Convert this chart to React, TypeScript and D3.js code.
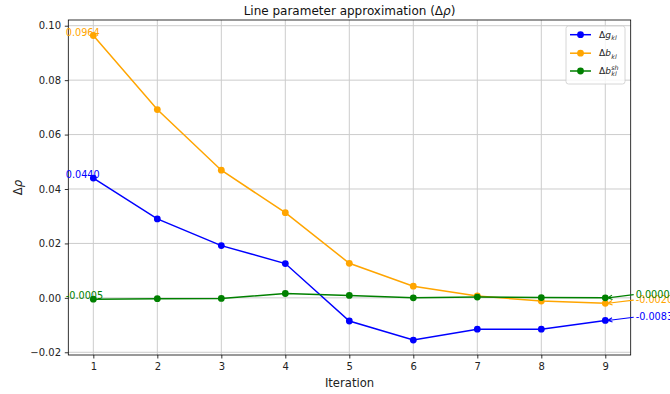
import * as d3 from 'd3';
import { useEffect, useRef } from 'react';

// values
const iterations = [1, 2, 3, 4, 5, 6, 7, 8, 9];
const deltaG = [0.044, 0.029, 0.0192, 0.0126, -0.0085, -0.0155, -0.0115, -0.0115, -0.0083];
const deltaB = [0.0964, 0.0692, 0.0469, 0.0313, 0.0127, 0.0043, 0.0007, -0.0012, -0.002];
const deltaBsh = [-0.0005, -0.0003, -0.0002, 0.0016, 0.0009, 0.0, 0.0003, 0.0001, 0.0];
const yTicks = [-0.02, 0, 0.02, 0.04, 0.06, 0.08, 0.1];
const startLabels = ['0.0440', '0.0964', '-0.0005'];
const endLabels = ['-0.0083', '-0.0020', '0.0000'];
const seriesColors = ['blue', 'orange', 'green'];
const legendBase = ['g', 'b', 'b'];
const legendSub = ['kl', 'kl', 'kl'];
const legendSup = ['', '', 'sh'];

const FONT = 'DejaVu Sans, sans-serif';

const App = () => {
  const ref = useRef<SVGSVGElement>(null);

  useEffect(() => {
    const svg = d3.select(ref.current);
    svg.selectAll('*').remove();

    const left = 68.3,
      right = 630.7,
      top = 20,
      bottom = 355;

    const x = d3.scaleLinear().domain([0.609, 9.397]).range([left, right]);
    const y = d3.scaleLinear().domain([-0.021, 0.1021]).range([bottom, top]);
    const series = [deltaG, deltaB, deltaBsh];

    svg.append('rect').attr('width', 670).attr('height', 394).attr('fill', '#fff');

    // grid
    const grid = svg.append('g').attr('stroke', '#cccccc').attr('stroke-width', 1);
    grid
      .selectAll('line.gx')
      .data(iterations)
      .enter()
      .append('line')
      .attr('x1', (d) => x(d))
      .attr('x2', (d) => x(d))
      .attr('y1', top)
      .attr('y2', bottom);
    grid
      .selectAll('line.gy')
      .data(yTicks)
      .enter()
      .append('line')
      .attr('x1', left)
      .attr('x2', right)
      .attr('y1', (d) => y(d))
      .attr('y2', (d) => y(d));

    // series
    const line = d3
      .line<number>()
      .x((d, i) => x(iterations[i]))
      .y((d) => y(d));

    series.forEach((vals, si) => {
      const g = svg.append('g');
      g.append('path')
        .attr('d', line(vals))
        .attr('fill', 'none')
        .attr('stroke', seriesColors[si])
        .attr('stroke-width', 1.5);
      g.selectAll('circle')
        .data(vals)
        .enter()
        .append('circle')
        .attr('cx', (d, i) => x(iterations[i]))
        .attr('cy', (d) => y(d))
        .attr('r', 3.4)
        .attr('fill', seriesColors[si]);
    });

    // spines
    svg
      .append('rect')
      .attr('x', left)
      .attr('y', top)
      .attr('width', right - left)
      .attr('height', bottom - top)
      .attr('fill', 'none')
      .attr('stroke', '#000')
      .attr('stroke-width', 0.8);

    // axes
    const xAxis = svg
      .append('g')
      .attr('transform', 'translate(0,' + bottom + ')')
      .call(
        d3
          .axisBottom(x)
          .tickValues(iterations)
          .tickFormat(d3.format('d'))
          .tickSize(3.5)
          .tickPadding(4.5)
          .tickSizeOuter(0)
      );
    const yAxis = svg
      .append('g')
      .attr('transform', 'translate(' + left + ',0)')
      .call(
        d3
          .axisLeft(y)
          .tickValues(yTicks)
          .tickFormat(d3.format('.2f'))
          .tickSize(3.5)
          .tickPadding(3.8)
          .tickSizeOuter(0)
      );
    [xAxis, yAxis].forEach((a) => {
      a.select('.domain').remove();
      a.selectAll('line').attr('stroke', '#000').attr('stroke-width', 0.8);
      a.selectAll('text').attr('fill', '#222').attr('font-size', 10).attr('font-family', FONT);
    });

    // labels
    svg
      .append('text')
      .attr('x', (left + right) / 2)
      .attr('y', 386.7)
      .attr('text-anchor', 'middle')
      .attr('font-size', 11.6)
      .attr('font-family', FONT)
      .attr('fill', '#222')
      .text('Iteration');

    const yl = svg
      .append('text')
      .attr('transform', 'translate(21.5,' + (top + bottom) / 2 + ') rotate(-90)')
      .attr('text-anchor', 'middle')
      .attr('font-size', 11.6)
      .attr('font-family', FONT)
      .attr('fill', '#222');
    yl.append('tspan').text('Δ');
    yl.append('tspan').attr('font-style', 'italic').text('ρ');

    const title = svg
      .append('text')
      .attr('x', (left + right) / 2)
      .attr('y', 15)
      .attr('text-anchor', 'middle')
      .attr('font-size', 12)
      .attr('font-family', FONT)
      .attr('fill', '#111');
    title.append('tspan').text('Line parameter approximation (Δ');
    title.append('tspan').attr('font-style', 'italic').text('ρ');
    title.append('tspan').text(')');

    // annotations at first and last iteration
    const last = iterations.length - 1;
    series.forEach((vals, si) => {
      svg
        .append('text')
        .attr('x', x(iterations[0] - 0.43))
        .attr('y', y(vals[0]))
        .attr('font-size', 9.7)
        .attr('font-family', FONT)
        .attr('fill', seriesColors[si])
        .text(startLabels[si]);

      const tx = x(iterations[last] + 0.475);
      const ty = y(vals[last]);
      svg
        .append('text')
        .attr('x', tx)
        .attr('y', ty)
        .attr('font-size', 9.7)
        .attr('font-family', FONT)
        .attr('fill', seriesColors[si])
        .text(endLabels[si]);

      const x0 = tx - 2,
        y0 = ty - 3.2,
        x1 = x(iterations[last]) + 2.5,
        y1 = ty;
      const ang = Math.atan2(y0 - y1, x0 - x1);
      const hl = 5,
        hw = 0.45;
      const p = d3.path();
      p.moveTo(x0, y0);
      p.lineTo(x1, y1);
      p.moveTo(x1 + hl * Math.cos(ang + hw), y1 + hl * Math.sin(ang + hw));
      p.lineTo(x1, y1);
      p.lineTo(x1 + hl * Math.cos(ang - hw), y1 + hl * Math.sin(ang - hw));
      svg
        .append('path')
        .attr('d', p.toString())
        .attr('fill', 'none')
        .attr('stroke', seriesColors[si])
        .attr('stroke-width', 1.1);
    });

    // legend
    const lg = svg.append('g');
    lg.append('rect')
      .attr('x', 566)
      .attr('y', 26)
      .attr('width', 59)
      .attr('height', 58)
      .attr('rx', 2.5)
      .attr('fill', '#fff')
      .attr('fill-opacity', 0.8)
      .attr('stroke', '#cccccc')
      .attr('stroke-width', 0.8);

    const rowY = [34.7, 53.2, 71];
    seriesColors.forEach((c, i) => {
      const cy = rowY[i];
      lg.append('line')
        .attr('x1', 570)
        .attr('x2', 591)
        .attr('y1', cy)
        .attr('y2', cy)
        .attr('stroke', c)
        .attr('stroke-width', 1.5);
      lg.append('circle').attr('cx', 580.5).attr('cy', cy).attr('r', 3.4).attr('fill', c);

      const t = lg
        .append('text')
        .attr('x', 599)
        .attr('y', cy + 3)
        .attr('font-size', 9)
        .attr('font-family', FONT)
        .attr('fill', '#222');
      t.append('tspan').text('Δ');
      t.append('tspan').attr('font-style', 'italic').text(legendBase[i]);
      const w = (t.node() as SVGTextElement).getComputedTextLength();

      lg.append('text')
        .attr('x', 599 + w + 0.4)
        .attr('y', cy + 5.3)
        .attr('font-size', 6.3)
        .attr('font-style', 'italic')
        .attr('font-family', FONT)
        .attr('fill', '#222')
        .text(legendSub[i]);
      if (legendSup[i]) {
        lg.append('text')
          .attr('x', 599 + w + 0.4)
          .attr('y', cy - 1.2)
          .attr('font-size', 6.3)
          .attr('font-style', 'italic')
          .attr('font-family', FONT)
          .attr('fill', '#222')
          .text(legendSup[i]);
      }
    });
  }, []);

  return (
    <svg
      ref={ref}
      width={670}
      height={394}
      style={{ position: 'absolute', left: 0, top: 0, display: 'block' }}
    />
  );
};

export default App;
